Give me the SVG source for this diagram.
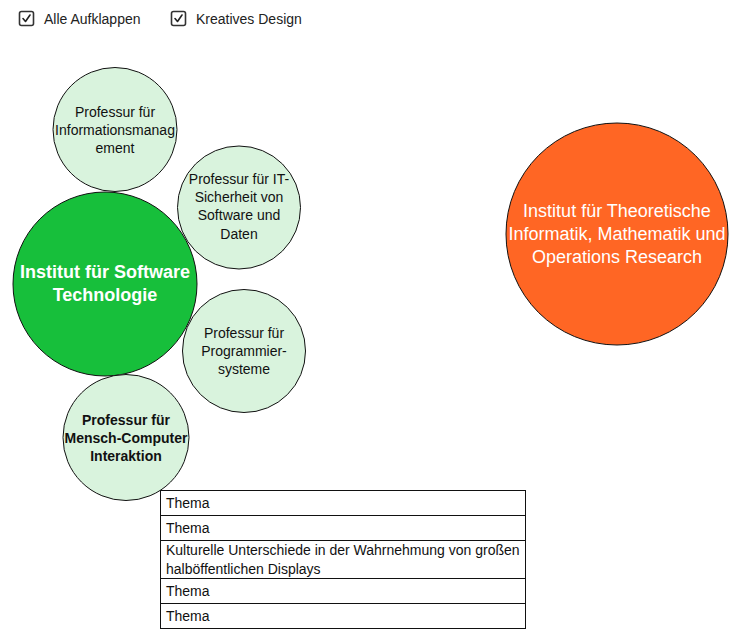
<svg xmlns="http://www.w3.org/2000/svg" width="752" height="638" viewBox="0 0 752 638">
<style>
text{font-family:"Liberation Sans",Arial,sans-serif;}
.cb{fill:#fff;stroke:#333;stroke-width:1.6;}
.ck{fill:none;stroke:#222;stroke-width:1.6;stroke-linecap:round;stroke-linejoin:round;}
.lbl{font-size:14px;fill:#222;}
.prof{fill:#d9f3dd;stroke:#111;stroke-width:1;}
.pt{font-size:14px;fill:#111;text-anchor:middle;}
.ptb{font-size:14px;fill:#111;text-anchor:middle;font-weight:bold;}
.big{font-size:18px;fill:#fff;text-anchor:middle;}
.row{fill:#fff;stroke:#111;stroke-width:1;}
.tt{font-size:14px;fill:#111;}
</style>
<g id="controls">
<rect class="cb" x="19.5" y="11.5" width="14" height="14" rx="2"/>
<path class="ck" d="M23 18.5 L25.5 21.5 L30 15"/>
<text class="lbl" x="44" y="24">Alle Aufklappen</text>
<rect class="cb" x="171.5" y="11.5" width="14" height="14" rx="2"/>
<path class="ck" d="M175 18.5 L177.5 21.5 L182 15"/>
<text class="lbl" x="196" y="24">Kreatives Design</text>
</g>
<g id="connectors"></g>
<g id="prof-info">
<circle class="prof" cx="115" cy="129.5" r="62"/>
<text class="pt" x="115" y="117">Professur für</text>
<text class="pt" x="115" y="135">Informationsmanag</text>
<text class="pt" x="115" y="153">ement</text>
</g>
<g id="prof-it">
<circle class="prof" cx="239" cy="207.5" r="61.5"/>
<text class="pt" x="239" y="184">Professur für IT-</text>
<text class="pt" x="239" y="202">Sicherheit von</text>
<text class="pt" x="239" y="220">Software und</text>
<text class="pt" x="239" y="239">Daten</text>
</g>
<g id="inst-swt">
<circle cx="105" cy="284" r="92" fill="#17bf3b" stroke="#111" stroke-width="1"/>
<text class="big" x="105" y="278" font-weight="bold">Institut für Software</text>
<text class="big" x="105" y="301" font-weight="bold">Technologie</text>
</g>
<g id="prof-prog">
<circle class="prof" cx="244" cy="351" r="61.5"/>
<text class="pt" x="244" y="338">Professur für</text>
<text class="pt" x="244" y="356">Programmier-</text>
<text class="pt" x="244" y="374">systeme</text>
</g>
<g id="prof-mci">
<circle class="prof" cx="126" cy="437.5" r="63"/>
<text class="ptb" x="126" y="425">Professur für</text>
<text class="ptb" x="126" y="443">Mensch-Computer</text>
<text class="ptb" x="126" y="461">Interaktion</text>
</g>
<g id="inst-theo">
<circle cx="617" cy="234" r="111" fill="#ff6624" stroke="#111" stroke-width="1"/>
<text class="big" x="617" y="217">Institut für Theoretische</text>
<text class="big" x="617" y="240">Informatik, Mathematik und</text>
<text class="big" x="617" y="263">Operations Research</text>
</g>
<g id="themen">
<rect class="row" x="160.5" y="490.5" width="365" height="25"/>
<text class="tt" x="166" y="508">Thema</text>
<rect class="row" x="160.5" y="515.5" width="365" height="25"/>
<text class="tt" x="166" y="533">Thema</text>
<rect class="row" x="160.5" y="540.5" width="365" height="38"/>
<text class="tt" x="166" y="555">Kulturelle Unterschiede in der Wahrnehmung von großen</text>
<text class="tt" x="166" y="574">halböffentlichen Displays</text>
<rect class="row" x="160.5" y="578.5" width="365" height="25"/>
<text class="tt" x="166" y="596">Thema</text>
<rect class="row" x="160.5" y="603.5" width="365" height="25"/>
<text class="tt" x="166" y="621">Thema</text>
</g>
</svg>
